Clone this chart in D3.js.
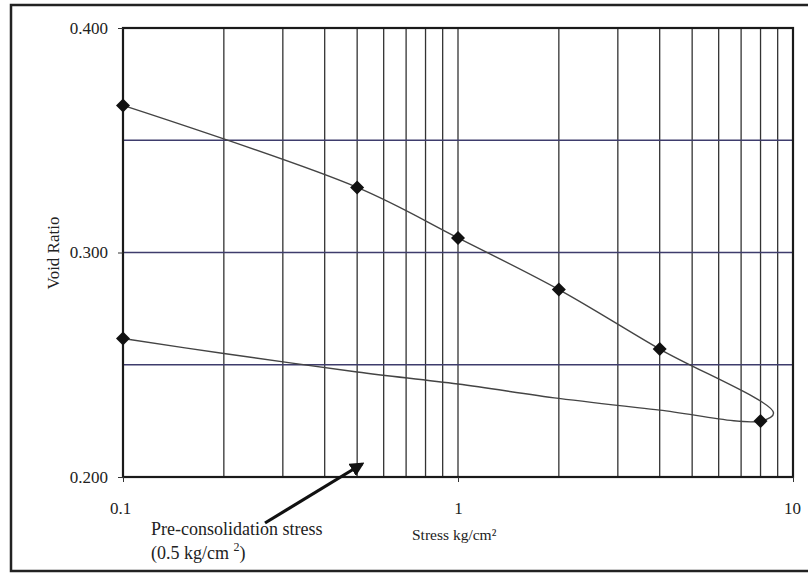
<!DOCTYPE html>
<html>
<head>
<meta charset="utf-8">
<script src="https://cdn.jsdelivr.net/npm/d3@7"></script>
<style>
body{margin:0;background:#fff;}
text{font-family:"Liberation Serif","Times New Roman",serif;fill:#222;}
</style>
</head>
<body>
<svg></svg>
<script>
// consolidation test, void ratio vs stress (log)
var loadStress=[0.1,0.5,1,2,4,8];
var loadRatio=[0.3655,0.329,0.3065,0.2835,0.257,0.2249];
// unloading branch, only the end point carries a marker
var unloadStress=[8,4,2,1,0.5,0.2,0.1];
var unloadRatio=[0.2249,0.2298,0.235,0.2414,0.2468,0.255,0.2617];
// turning point of the drawn curve, just past the last load step
var turnStress=8.75, turnRatio=0.2285;
var yTicks=[0.2,0.3,0.4];
var yGrid=[0.25,0.3,0.35];
var xTicks=[0.1,1,10];

var width=808,height=573;
// note: "top" is taken by window.top, so prefix the plot edges
var plotLeft=123,plotRight=793,plotTop=28,plotBottom=477;

var svg=d3.select("svg").attr("width",width).attr("height",height);

// outer frame of the scanned figure
svg.append("rect").attr("x",11).attr("y",5).attr("width",805).attr("height",566)
	.attr("fill","none").attr("stroke","#222").attr("stroke-width",2.5);

var x=d3.scaleLog().domain([0.1,10]).range([plotLeft,plotRight]);
var y=d3.scaleLinear().domain([0.2,0.4]).range([plotBottom,plotTop]);

// vertical grid at every 1..9 step of each decade
var vGrid=[];
[0.1,1].forEach(function(d) {
	for (var i=2;i<10;i++) vGrid.push(d*i);
});
vGrid.push(1);
svg.selectAll(".vgrid").data(vGrid).enter().append("line")
	.attr("x1",function(d){return x(d);}).attr("x2",function(d){return x(d);})
	.attr("y1",plotTop).attr("y2",plotBottom)
	.attr("stroke","#333").attr("stroke-width",1.3);

svg.selectAll(".hgrid").data(yGrid).enter().append("line")
	.attr("x1",plotLeft).attr("x2",plotRight)
	.attr("y1",function(d){return y(d);}).attr("y2",function(d){return y(d);})
	.attr("stroke","#3e3c6c").attr("stroke-width",1.4);

// plot border
svg.append("rect").attr("x",plotLeft).attr("y",plotTop)
	.attr("width",plotRight-plotLeft).attr("height",plotBottom-plotTop)
	.attr("fill","none").attr("stroke","#1a1a1a").attr("stroke-width",2.2);

var yAxis=svg.append("g").attr("transform","translate("+plotLeft+",0)")
	.call(d3.axisLeft(y).tickValues(yTicks).tickFormat(d3.format(".3f")).tickSize(5).tickPadding(10));
var xAxis=svg.append("g").attr("transform","translate(0,"+plotBottom+")")
	.call(d3.axisBottom(x).tickValues(xTicks).tickFormat(function(d){return d;}).tickSize(5).tickPadding(20));
[yAxis,xAxis].forEach(function(a) {
	a.select(".domain").remove();
	a.selectAll("line").attr("stroke","#333");
	a.selectAll("text").style("font-size","17px").attr("fill","#222");
});
xAxis.selectAll(".tick text").attr("dx",function(d){return d==0.1?"-3":(d==10?"-1":"0");});

// the curve: loading, turning point, unloading
var curvePts=loadStress.slice(0,5).map(function(d,i){return [d,loadRatio[i]];});
curvePts.push([turnStress,turnRatio]);
unloadStress.forEach(function(d,i){curvePts.push([d,unloadRatio[i]]);});

var line=d3.line().x(function(d){return x(d[0]);}).y(function(d){return y(d[1]);})
	.curve(d3.curveCatmullRom.alpha(0.5));
svg.append("path").datum(curvePts).attr("d",line)
	.attr("fill","none").attr("stroke","#444").attr("stroke-width",1.4);

var markers=loadStress.map(function(d,i){return [d,loadRatio[i]];});
markers.push([unloadStress[unloadStress.length-1],unloadRatio[unloadRatio.length-1]]);
svg.selectAll(".pt").data(markers).enter().append("path")
	.attr("d",d3.symbol().type(d3.symbolDiamond2).size(125))
	.attr("transform",function(d){return "translate("+x(d[0])+","+y(d[1])+")";})
	.attr("fill","#111");

// axis titles
svg.append("text").attr("transform","translate(59,253) rotate(-90)")
	.attr("text-anchor","middle").style("font-size","17px").text("Void Ratio");
svg.append("text").attr("x",412).attr("y",540).style("font-size","15.5px").text("Stress kg/cm²");

// annotation
svg.append("defs").append("marker").attr("id","head").attr("viewBox","0 0 10 10")
	.attr("refX",8).attr("refY",5).attr("markerWidth",4.5).attr("markerHeight",4.5).attr("orient","auto")
	.append("path").attr("d","M0,0L10,5L0,10z").attr("fill","#111");
svg.append("line").attr("x1",265).attr("y1",523).attr("x2",362).attr("y2",464)
	.attr("stroke","#111").attr("stroke-width",3.2).attr("marker-end","url(#head)");
svg.append("text").attr("x",151).attr("y",535).style("font-size","18px").text("Pre-consolidation stress");
var t2=svg.append("text").attr("x",151).attr("y",559).style("font-size","18px");
t2.append("tspan").text("(0.5 kg/cm ");
t2.append("tspan").attr("dy",-8).style("font-size","12px").text("2");
t2.append("tspan").attr("dy",8).text(")");
</script>
</body>
</html>
